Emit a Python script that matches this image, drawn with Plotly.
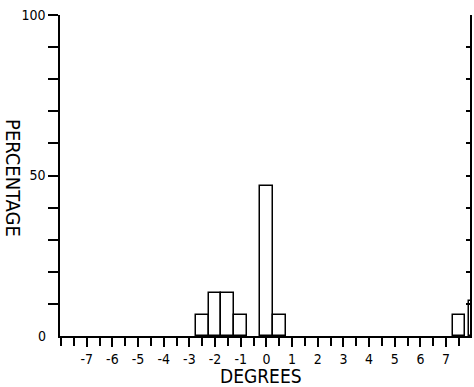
import plotly.graph_objects as go

# Data
bin_centers = [-2.5, -2.0, -1.5, -1.0, 0.0, 0.5, 7.5]
percentages = [6.67, 13.33, 13.33, 6.67, 46.67, 6.67, 6.67]
edge_bar_x = [8.0]
edge_bar_y = [11.0]
x_tick_vals = [-7, -6, -5, -4, -3, -2, -1, 0, 1, 2, 3, 4, 5, 6, 7]
x_tick_text = ["-7", "-6", "-5", "-4", "-3", "-2", "-1", "0", "1", "2", "3", "4", "5", "6", "7"]
y_tick_vals = [10, 20, 30, 40, 50, 60, 70, 80, 90, 100]
y_tick_text = ["", "", "", "", "50", "", "", "", "", "100"]

FONT = "DejaVu Sans Condensed, DejaVu Sans, sans-serif"

fig = go.Figure()
fig.add_trace(go.Bar(
    x=bin_centers, y=percentages, width=0.5,
    marker=dict(color="white", line=dict(color="black", width=1.5)),
    showlegend=False, hoverinfo="skip",
))
fig.add_trace(go.Bar(
    x=edge_bar_x, y=edge_bar_y, width=0.25, yaxis="y2",
    marker=dict(color="white", line=dict(color="black", width=1.5)),
    showlegend=False, hoverinfo="skip",
))

fig.update_layout(
    width=474, height=387,
    margin=dict(l=60, r=3.5, t=15, b=51, autoexpand=False),
    paper_bgcolor="white", plot_bgcolor="white",
    font=dict(family=FONT, color="black", size=14),
    barmode="overlay", bargap=0,
    xaxis=dict(
        range=[-8.04, 7.93], showgrid=False, zeroline=False, automargin=False,
        showline=True, linecolor="black", linewidth=1.5,
        tickmode="array", tickvals=x_tick_vals, ticktext=x_tick_text,
        ticks="outside", ticklen=9, tickwidth=1.5, tickcolor="black",
        tickfont=dict(size=14, family=FONT), ticklabeloverflow="allow",
        minor=dict(dtick=0.5, tick0=-7.5, ticks="outside", ticklen=8,
                   tickwidth=1.5, tickcolor="black", showgrid=False),
    ),
    yaxis=dict(
        range=[0, 100], showgrid=False, zeroline=False, automargin=False,
        showline=True, linecolor="black", linewidth=1.5,
        tickmode="array", tickvals=y_tick_vals, ticktext=y_tick_text,
        ticks="outside", ticklen=10, tickwidth=1.5, tickcolor="black",
        tickfont=dict(size=14, family=FONT), ticklabeloverflow="allow",
    ),
    yaxis2=dict(
        range=[0, 100], overlaying="y", side="right", anchor="x",
        showgrid=False, zeroline=False, automargin=False,
        showline=True, linecolor="black", linewidth=1.5,
        tickmode="array", tickvals=y_tick_vals, showticklabels=False,
        ticks="inside", ticklen=4, tickwidth=1.5, tickcolor="black",
    ),
    annotations=[
        dict(text="0", xref="paper", yref="y", x=0, y=0, xanchor="right",
             yanchor="middle", xshift=-12, showarrow=False,
             font=dict(size=14, family=FONT)),
        dict(text="PERCENTAGE", xref="paper", yref="paper", x=0, y=0.492,
             xanchor="center", yanchor="middle",
             xshift=-47, textangle=90, showarrow=False,
             font=dict(size=20, family=FONT)),
        dict(text="DEGREES", xref="paper", yref="paper", x=0.49, y=0,
             xanchor="center", yanchor="middle",
             yshift=-40, showarrow=False,
             font=dict(size=19, family=FONT)),
    ],
)

# remove the default 8px page margin so the figure sits at the window corner
fig.write_html("out.html",
               config={"displayModeBar": False},
               post_script="document.body.style.margin='0';document.body.style.overflow='hidden';")
